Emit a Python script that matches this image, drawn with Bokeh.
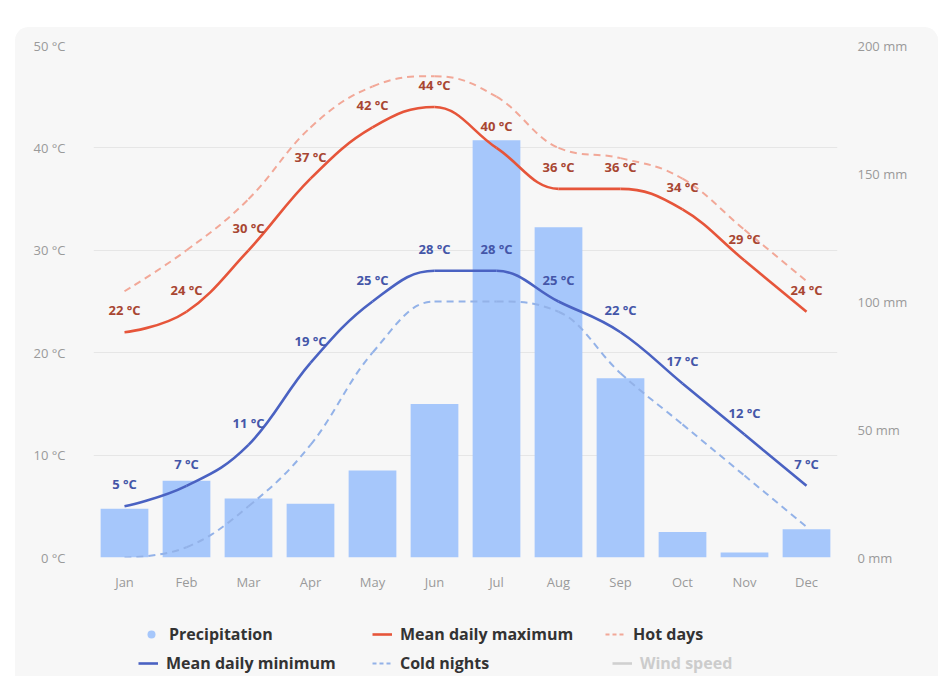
from bokeh.plotting import figure
from bokeh.layouts import column
from bokeh.models import Range1d, LinearAxis, FixedTicker, Legend, LegendItem, ColumnDataSource
from bokeh.core.properties import value
from bokeh.embed import file_html
from bokeh.resources import INLINE

# ---------------- data ----------------
months = ["Jan", "Feb", "Mar", "Apr", "May", "Jun", "Jul", "Aug", "Sep", "Oct", "Nov", "Dec"]
precipitation_mm = [19, 30, 23, 21, 34, 60, 163, 129, 70, 10, 2, 11]
mean_daily_max = [22, 24, 30, 37, 42, 44, 40, 36, 36, 34, 29, 24]
hot_days = [26, 30, 35, 42, 46, 47, 45, 40, 39, 37, 32, 27]
mean_daily_min = [5, 7, 11, 19, 25, 28, 28, 25, 22, 17, 12, 7]
cold_nights = [0, 1, 5, 11, 20, 25, 25, 24, 18, 13, 8, 3]
temp_ticks = [0, 10, 20, 30, 40, 50]
precip_ticks = [0, 50, 100, 150, 200]
legend_labels = ["Precipitation", "Mean daily maximum", "Hot days",
                 "Mean daily minimum", "Cold nights", "Wind speed"]

FONT = "Open Sans"
CARD = "#f7f7f7"
C_PRECIP = "#a6c7fb"
C_MAX = "#e6553a"
C_HOT = "#f2a898"
C_MIN = "#4a62c2"
C_COLD = "#93b2e8"
C_WIND = "#d0d0d0"

xs = [i + 0.5 for i in range(len(months))]
NAN = float("nan")


def spline_segments(x, y, smoothing=1.5):
    """Highcharts-style spline: bezier control points for each segment."""
    n = len(x)
    denom = smoothing + 1
    left = [(x[i], y[i]) for i in range(n)]
    right = [(x[i], y[i]) for i in range(n)]
    for i in range(1, n - 1):
        px, py = x[i], y[i]
        lx, ly = x[i - 1], y[i - 1]
        nx, ny = x[i + 1], y[i + 1]
        lcx = (smoothing * px + lx) / denom
        lcy = (smoothing * py + ly) / denom
        rcx = (smoothing * px + nx) / denom
        rcy = (smoothing * py + ny) / denom
        corr = 0.0
        if rcx != lcx:
            corr = ((rcy - lcy) * (rcx - px)) / (rcx - lcx) + py - rcy
        lcy += corr
        rcy += corr
        if lcy > ly and lcy > py:
            lcy = max(ly, py)
            rcy = 2 * py - lcy
        elif lcy < ly and lcy < py:
            lcy = min(ly, py)
            rcy = 2 * py - lcy
        if rcy > ny and rcy > py:
            rcy = max(ny, py)
            lcy = 2 * py - rcy
        elif rcy < ny and rcy < py:
            rcy = min(ny, py)
            lcy = 2 * py - rcy
        left[i] = (lcx, lcy)
        right[i] = (rcx, rcy)
    d = dict(x0=[], y0=[], x1=[], y1=[], cx0=[], cy0=[], cx1=[], cy1=[])
    for i in range(n - 1):
        d["x0"].append(x[i]); d["y0"].append(y[i])
        d["x1"].append(x[i + 1]); d["y1"].append(y[i + 1])
        d["cx0"].append(right[i][0]); d["cy0"].append(right[i][1])
        d["cx1"].append(left[i + 1][0]); d["cy1"].append(left[i + 1][1])
    return ColumnDataSource(d)


def draw_spline(fig, vals, color, width, dash="solid"):
    return fig.bezier(source=spline_segments(xs, vals), x0="x0", y0="y0", x1="x1", y1="y1",
                      cx0="cx0", cy0="cy0", cx1="cx1", cy1="cy1",
                      line_color=color, line_width=width, line_dash=dash)


W = 923
ML, MR = 78, 101
p = figure(width=W, height=573, x_range=Range1d(0, 12), y_range=Range1d(0, 50),
           output_backend="svg", toolbar_location=None,
           min_border_left=ML, min_border_right=MR, min_border_top=18, min_border_bottom=43)
p.background_fill_color = CARD
p.border_fill_color = CARD
p.outline_line_color = None
p.extra_y_ranges = {"precip": Range1d(0, 200)}

# axes
p.xaxis.ticker = FixedTicker(ticks=xs)
p.xaxis.major_label_overrides = {xv: m for xv, m in zip(xs, months)}
p.yaxis.ticker = FixedTicker(ticks=temp_ticks)
p.yaxis.major_label_overrides = {t: f"{t} °C" for t in temp_ticks}
right_axis = LinearAxis(y_range_name="precip", ticker=FixedTicker(ticks=precip_ticks))
right_axis.major_label_overrides = {t: f"{t} mm" for t in precip_ticks}
p.add_layout(right_axis, "right")

for ax in [p.xaxis[0], p.yaxis[0], right_axis]:
    ax.axis_line_color = None
    ax.major_tick_line_color = None
    ax.minor_tick_line_color = None
    ax.major_label_text_color = "#9a9a9a"
    ax.major_label_text_font = FONT
    ax.major_label_text_font_size = "13px"
p.xaxis.major_label_standoff = 9
p.yaxis.major_label_standoff = 22
right_axis.major_label_standoff = 14

p.xgrid.visible = False
p.ygrid.grid_line_color = "#e6e6e6"
p.ygrid.grid_line_width = 1

# bars
p.vbar(x=xs, top=precipitation_mm, width=0.77, bottom=0, y_range_name="precip",
       fill_color=C_PRECIP, line_color=None)

# lines
draw_spline(p, hot_days, C_HOT, 2, "7 5")
draw_spline(p, cold_nights, C_COLD, 2, "7 5")
draw_spline(p, mean_daily_max, C_MAX, 2.6)
draw_spline(p, mean_daily_min, C_MIN, 2.6)

# data labels
p.text(x=xs, y=mean_daily_max, text=[f"{v} °C" for v in mean_daily_max],
       text_align="center", text_baseline="alphabetic", y_offset=-22,
       text_font=value(FONT), text_font_size="13px", text_font_style="bold",
       text_color="#a84632")
p.text(x=xs, y=mean_daily_min, text=[f"{v} °C" for v in mean_daily_min],
       text_align="center", text_baseline="alphabetic", y_offset=-22,
       text_font=value(FONT), text_font_size="13px", text_font_style="bold",
       text_color="#4456a8")

# ---------------- legend strip ----------------
LH = 676 - 27 - 573
lg_fig = figure(width=W, height=LH, x_range=Range1d(0, 1), y_range=Range1d(0, 1),
                output_backend="svg", toolbar_location=None,
                min_border_left=ML, min_border_right=MR, min_border_top=0, min_border_bottom=0)
lg_fig.axis.visible = False
lg_fig.grid.visible = False
lg_fig.background_fill_color = CARD
lg_fig.border_fill_color = CARD
lg_fig.outline_line_color = None

r_precip = lg_fig.scatter(x=[NAN], y=[NAN], marker="circle", size=18, fill_color=C_PRECIP, line_color=None)
r_max = lg_fig.line(x=[NAN], y=[NAN], line_color=C_MAX, line_width=2.6)
r_hot = lg_fig.line(x=[NAN], y=[NAN], line_color=C_HOT, line_width=2, line_dash="4 3")
r_min = lg_fig.line(x=[NAN], y=[NAN], line_color=C_MIN, line_width=2.6)
r_cold = lg_fig.line(x=[NAN], y=[NAN], line_color=C_COLD, line_width=2, line_dash="4 3")
r_wind = lg_fig.line(x=[NAN], y=[NAN], line_color=C_WIND, line_width=2.6)

leg_renderers = [r_precip, r_max, r_hot, r_min, r_cold, r_wind]
# offsets measured from the left edge of the plotting frame
leg_positions = [(48, 31), (279, 31), (512, 31), (45, 2), (279, 2), (519, 2)]
for lab, rend, pos in zip(legend_labels, leg_renderers, leg_positions):
    lg = Legend(items=[LegendItem(label=lab, renderers=[rend])], location=pos,
                orientation="horizontal", background_fill_alpha=0, border_line_alpha=0,
                padding=0, margin=0, glyph_width=20, glyph_height=20, label_standoff=8,
                label_text_font=FONT, label_text_font_size="16px", label_text_font_style="bold",
                label_text_color="#cccccc" if lab == "Wind speed" else "#333333")
    lg_fig.add_layout(lg, "center")

layout = column(p, lg_fig, spacing=0)
layout.margin = (27, 0, 0, 15)
layout.styles = {"border-radius": "14px 14px 0 0", "overflow": "hidden", "background-color": CARD}

open("out.html", "w").write(file_html(layout, INLINE))
